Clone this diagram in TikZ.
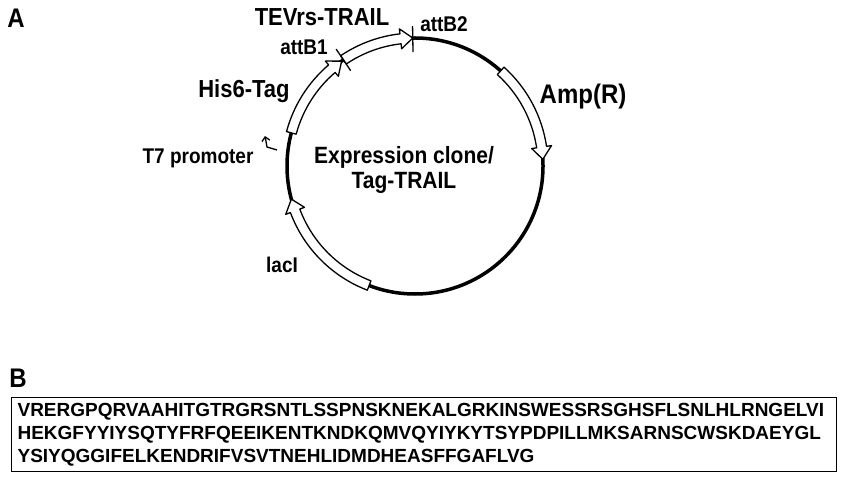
\documentclass[tikz,border=0pt]{standalone}
\usepackage{fontspec}
\setmainfont{Liberation Sans}
\usetikzlibrary{arrows.meta}
% hollow gene arrow on the plasmid ring: #1 start angle, #2 tip angle
\newcommand{\genearrow}[2]{%
  \pgfmathsetmacro{\headang}{#2+5.5}
  \draw[genebox] (#1:133) arc[start angle=#1, end angle=\headang, radius=133]
    -- (\headang:138) -- (#2:128) -- (\headang:118) -- (\headang:123)
    arc[start angle=\headang, end angle=#1, radius=123] -- cycle;}
\begin{document}
\begin{tikzpicture}[x=1pt,y=1pt,
  genebox/.style={draw, fill=white, line width=1.3pt, line join=round},
  lbl/.style={font=\bfseries\fontsize{#1}{#1}\selectfont, inner sep=0pt, yscale=1.12, transform shape}]
  \useasboundingbox (0,0) rectangle (850,477);

  \node[lbl=24] (A) at (16,459) {A};
  \node[lbl=24] (B) at (18,99) {B};

  % plasmid ring
  \begin{scope}[shift={(415,311)}]
    \draw[line width=3.5pt] (0,0) circle[radius=128];
    \genearrow{48}{3}
    \genearrow{249}{195}
    \genearrow{165}{125}
    \genearrow{124}{91}
    \draw[line width=1.3pt] (124:115) to (124:141);
    \draw[line width=1.3pt] (91:114) to (91:140);
  \end{scope}

  % T7 promoter mark
  \coordinate (t7a) at (277,327);
  \coordinate (t7b) at (267,330);
  \coordinate (t7c) at (265,341);
  \draw[line width=1.3pt, -{Straight Barb[length=4pt,width=8pt]}] (t7a) -- (t7b) -- (t7c);

  \node[lbl=22] (tev) at (322,460) {TEVrs-TRAIL};
  \node[lbl=19] (attb1) at (304,430) {attB1};
  \node[lbl=19] (attb2) at (444,453) {attB2};
  \node[lbl=22] (his) at (244,386) {His6-Tag};
  \node[lbl=19] (t7) at (198,319) {T7 promoter};
  \node[lbl=19] (laci) at (282,212) {lacI};
  \node[lbl=24] (amp) at (583,380) {Amp(R)};
  \node[lbl=21, align=center] (clone) at (404,307) {Expression clone/\\[2pt]Tag-TRAIL};

  % sequence box
  \node[draw, line width=1.2pt, anchor=south west, minimum width=825, minimum height=74,
    inner xsep=6pt, align=left, text width=813,
    font=\bfseries\fontsize{19}{23}\selectfont] (seq) at (11,5)
    {VRERGPQRVAAHITGTRGRSNTLSSPNSKNEKALGRKINSWESSRSGHSFLSNLHLRNGELVI\\
     HEKGFYYIYSQTYFRFQEEIKENTKNDKQMVQYIYKYTSYPDPILLMKSARNSCWSKDAEYGL\\
     YSIYQGGIFELKENDRIFVSVTNEHLIDMDHEASFFGAFLVG};
\end{tikzpicture}
\end{document}
